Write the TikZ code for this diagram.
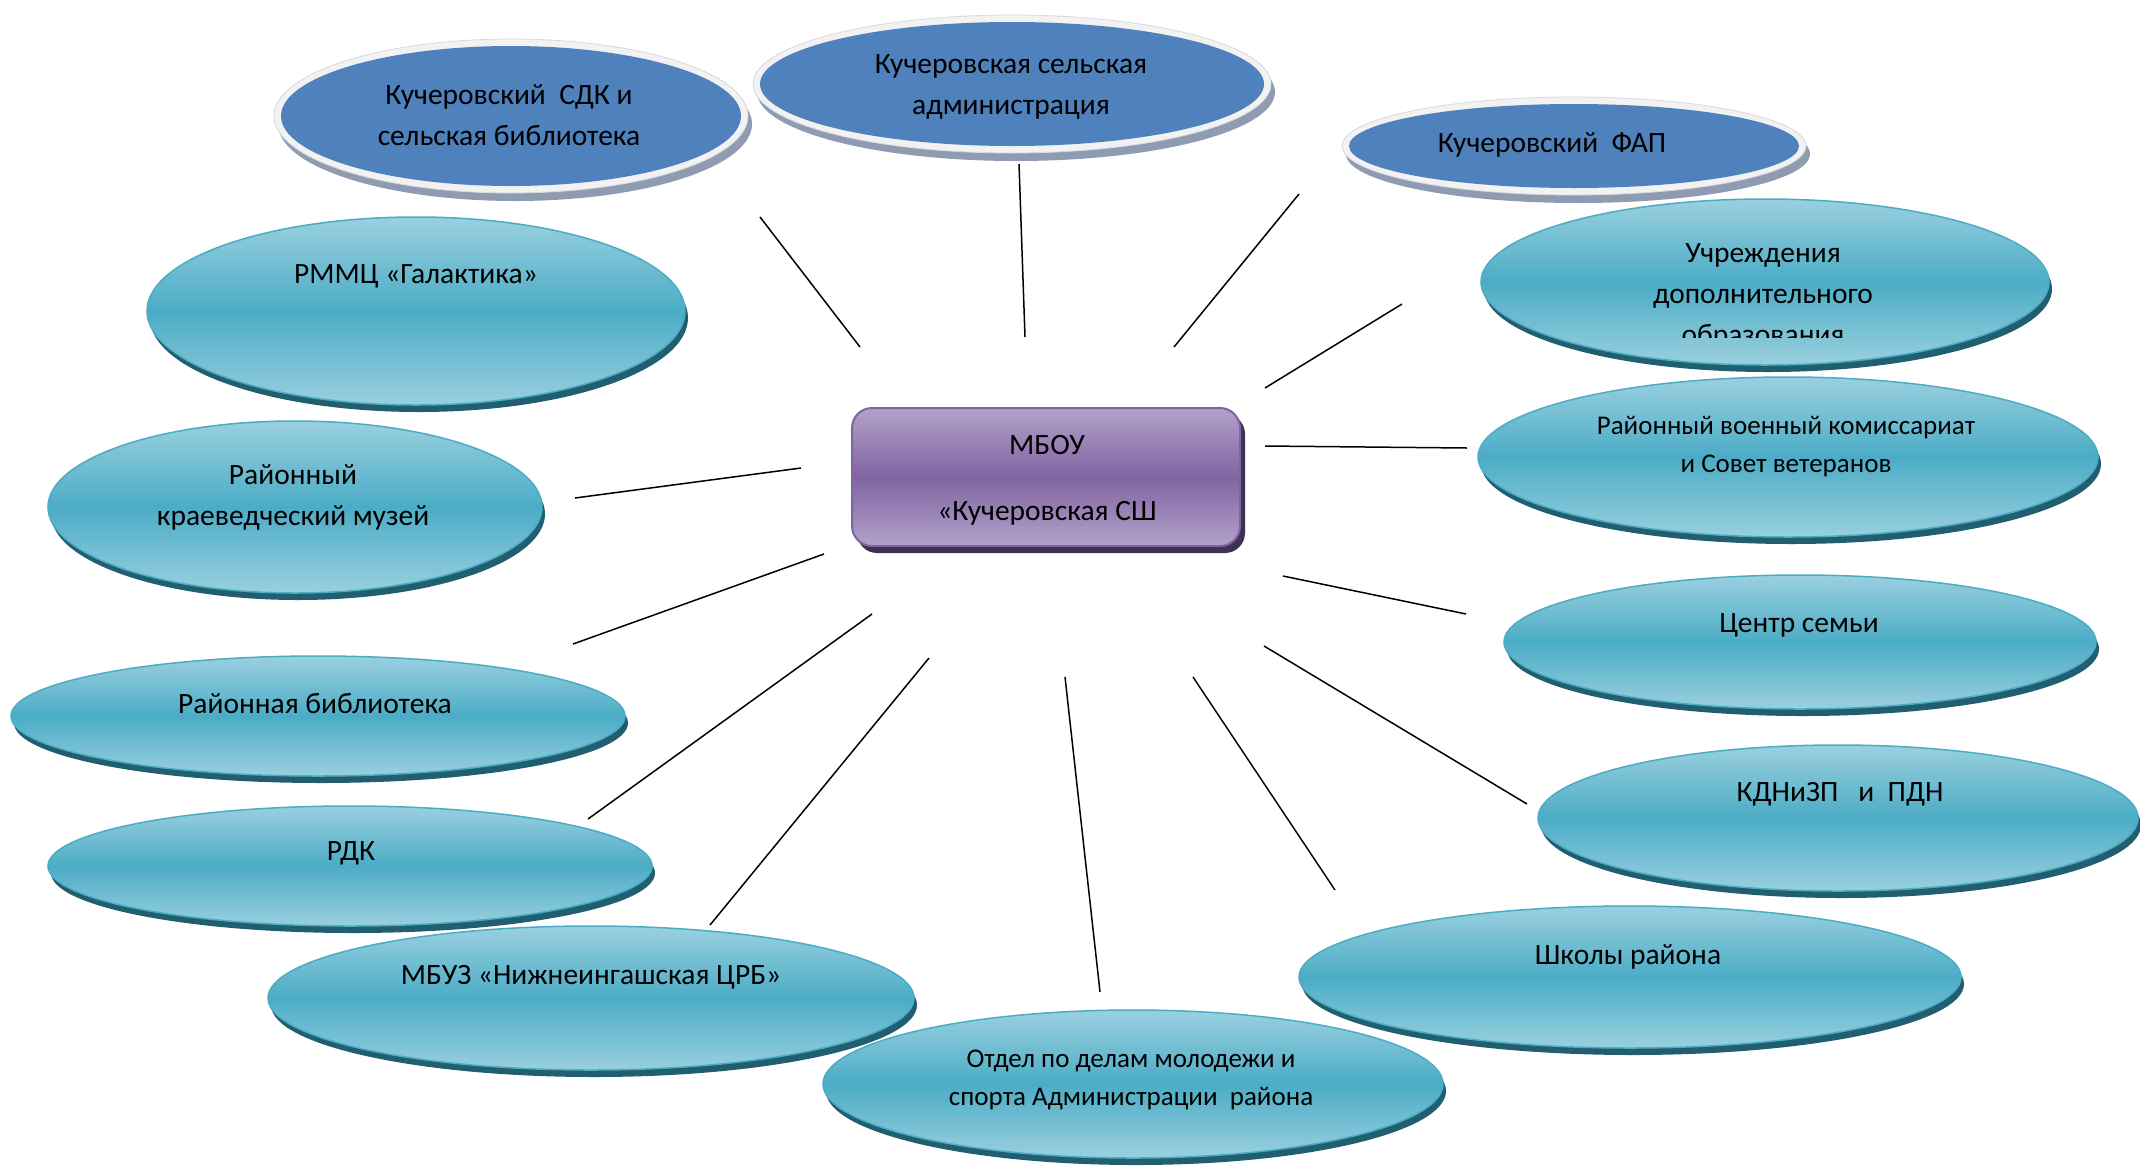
\documentclass[tikz,border=0pt]{standalone}
\usepackage{fontspec}
\setmainfont{Carlito}
\usetikzlibrary{shapes.geometric}
\definecolor{tealmid}{HTML}{4BACC6}
\definecolor{teallight}{HTML}{9AD0DF}
\definecolor{tealdark}{HTML}{215E6F}
\definecolor{bluefill}{HTML}{4F81BD}
\definecolor{rimgray}{HTML}{F2F2F2}
\definecolor{rimline}{HTML}{D6D9DE}
\definecolor{shadowgray}{HTML}{8F9BB0}
\definecolor{purplemid}{HTML}{8064A2}
\definecolor{purplelight}{HTML}{B2A2C9}
\definecolor{purpledark}{HTML}{3F3151}
\tikzset{
  tealell/.style={ellipse, inner sep=0pt, draw=tealmid, line width=1.5pt,
    top color=teallight, bottom color=teallight, middle color=tealmid},
  blueell/.style={ellipse, inner sep=0pt, fill=bluefill, draw=none},
  mbox/.style={rectangle, rounded corners=20pt, draw=purplemid, line width=2pt,
    top color=purplelight, bottom color=purplelight, middle color=purplemid},
  lbl/.style={align=center, inner sep=0pt, text=black, font=\fontsize{29.5}{41}\selectfont},
  slbl/.style={align=center, inner sep=0pt, text=black, font=\fontsize{27}{38}\selectfont},
  conn/.style={draw=black, line width=1.5pt}
}
\newcommand\tealoval[5]{%
  \fill[tealdark] (#2+3,#3+7) ellipse [x radius=#4, y radius=#5];
  \node[tealell, minimum width=2*#4, minimum height=2*#5] (#1) at (#2,#3) {};
}
\newcommand\blueoval[5]{%
  \fill[shadowgray] (#2+4,#3+8) ellipse [x radius=#4+7, y radius=#5+7];
  \filldraw[fill=rimgray, draw=rimline, line width=0.8pt] (#2,#3) ellipse [x radius=#4+7, y radius=#5+7];
  \node[blueell, minimum width=2*#4, minimum height=2*#5] (#1) at (#2,#3) {};
}
\begin{document}
\begin{tikzpicture}[x=1pt, y=-1pt]
\useasboundingbox (0,0) rectangle (2140,1165);
\fill[white] (0,0) rectangle (2140,1165);

% blue ovals
\blueoval{sdk}{511}{116}{230}{70}
\blueoval{adm}{1012}{84}{252}{62}
\blueoval{fap}{1574}{146}{225}{42}

% teal ovals
\tealoval{rmmc}{416}{311}{269}{94}
\tealoval{muzey}{295}{507}{247}{86}
\tealoval{rbib}{318}{716}{307}{60}
\tealoval{rdk}{350}{866}{302}{60}
\tealoval{mbuz}{591}{998}{323}{72}
\tealoval{otdel}{1133}{1084}{310}{74}
\tealoval{shkoly}{1630}{977}{331}{71}
\tealoval{kdn}{1838}{818}{300}{73}
\tealoval{centr}{1800}{642}{296}{67}
\tealoval{voen}{1788}{457}{310}{80}
\tealoval{uchr}{1765}{282}{284}{83}

% central box
\fill[purpledark, rounded corners=20pt] (857,414) rectangle (1245,553);
\node[mbox, minimum width=388, minimum height=138] (mbou) at (1046,477) {};

% labels
\node[lbl] (tsdk) at (509,115) {Кучеровский\ \ СДК и\\сельская библиотека};
\node[lbl] (tadm) at (1011,87) {Кучеровская сельская\\администрация};
\node[lbl] (tfap) at (1552,145) {Кучеровский\ \ ФАП};
\node[lbl] (trmmc) at (416,276) {РММЦ «Галактика»};
\node[lbl] (tmuzey) at (293,497) {Районный\\краеведческий музей};
\node[lbl] (trbib) at (315,704) {Районная библиотека};
\node[lbl] (trdk) at (351,853) {РДК};
\node[lbl] (tmbuz) at (591,977) {МБУЗ «Нижнеингашская ЦРБ»};
\node[slbl] (totdel) at (1131,1080) {Отдел по делам молодежи и\\спорта Администрации\ \ района};
\node[lbl] (tshkoly) at (1628,957) {Школы района};
\node[lbl] (tkdn) at (1840,794) {КДНиЗП\ \ \ и\ \ ПДН};
\node[lbl] (tcentr) at (1799,625) {Центр семьи};
\node[slbl] (tvoen) at (1786,447) {Районный военный комиссариат\\и Совет ветеранов};
\begin{scope}
  \clip (1480,200) rectangle (2060,337);
  \node[lbl, font=\fontsize{29.5}{41}\selectfont] (tuchr) at (1763,296) {Учреждения\\дополнительного\\образования};
\end{scope}
\node[lbl] (tmbou) at (1047,445) {МБОУ};
\node[lbl] (tkuch) at (1047,513) {«Кучеровская СШ};

% connector end points
\coordinate (sdk-a) at (760,217);   \coordinate (sdk-b) at (860,347);
\coordinate (adm-a) at (1019,164);  \coordinate (adm-b) at (1025,337);
\coordinate (fap-a) at (1299,194);  \coordinate (fap-b) at (1174,347);
\coordinate (uchr-a) at (1402,304); \coordinate (uchr-b) at (1265,388);
\coordinate (voen-a) at (1467,448); \coordinate (voen-b) at (1265,446);
\coordinate (centr-a) at (1466,614);\coordinate (centr-b) at (1283,576);
\coordinate (kdn-a) at (1527,804);  \coordinate (kdn-b) at (1264,646);
\coordinate (shk-a) at (1335,890);  \coordinate (shk-b) at (1193,677);
\coordinate (otd-a) at (1100,992);  \coordinate (otd-b) at (1065,677);
\coordinate (mbuz-a) at (710,925);  \coordinate (mbuz-b) at (929,658);
\coordinate (rdk-a) at (588,819);   \coordinate (rdk-b) at (872,614);
\coordinate (rbib-a) at (573,644);  \coordinate (rbib-b) at (824,554);
\coordinate (muz-a) at (575,498);   \coordinate (muz-b) at (801,468);

\draw[conn] (sdk-a) -- (sdk-b);
\draw[conn] (adm-a) -- (adm-b);
\draw[conn] (fap-a) -- (fap-b);
\draw[conn] (uchr-a) -- (uchr-b);
\draw[conn] (voen-a) -- (voen-b);
\draw[conn] (centr-a) -- (centr-b);
\draw[conn] (kdn-a) -- (kdn-b);
\draw[conn] (shk-a) -- (shk-b);
\draw[conn] (otd-a) -- (otd-b);
\draw[conn] (mbuz-a) -- (mbuz-b);
\draw[conn] (rdk-a) -- (rdk-b);
\draw[conn] (rbib-a) -- (rbib-b);
\draw[conn] (muz-a) -- (muz-b);
\end{tikzpicture}
\end{document}
